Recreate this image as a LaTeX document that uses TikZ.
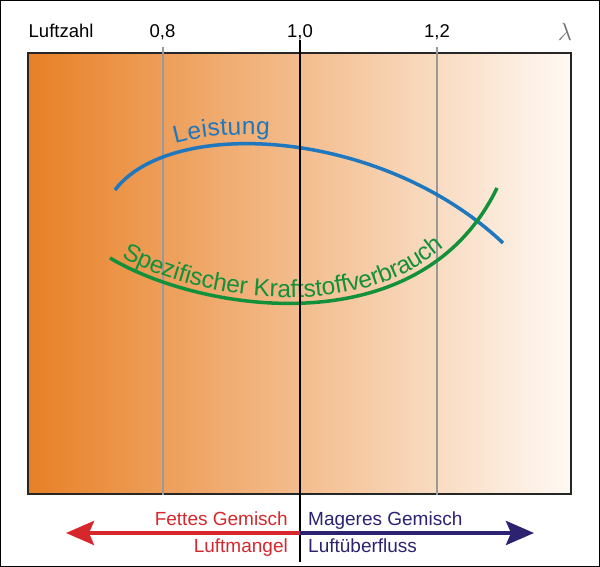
\documentclass[tikz,border=0pt]{standalone}
\usepackage{fontspec}
\setmainfont{Liberation Sans}
\usetikzlibrary{arrows.meta,decorations.text}
\definecolor{orangeL}{RGB}{232,128,38}
\definecolor{orangeR}{RGB}{254,249,244}
\definecolor{lblue}{RGB}{31,119,190}
\definecolor{lgreen}{RGB}{18,145,58}
\definecolor{fred}{RGB}{214,40,44}
\definecolor{mblue}{RGB}{43,34,114}

\begin{document}
\begin{tikzpicture}[x=1pt,y=1pt,
  lbl/.style={font=\fontsize{18.5}{22}\selectfont,inner sep=0pt,anchor=base},
  sub/.style={font=\fontsize{19}{23}\selectfont,inner sep=0pt},
  grid/.style={draw=black!40,line width=2pt},
  bigtip/.style={line width=4pt,-{Stealth[length=28pt,width=24pt,inset=5pt]}}]

\useasboundingbox (0,0) rectangle (600,567);
\draw[line width=1pt] (0.5,0.5) rectangle (599.5,566.5);

\node[draw=black!85,line width=1.3pt,left color=orangeL,right color=orangeR,
  minimum width=543pt,minimum height=441pt,inner sep=0pt] (box) at (299.5,293.5) {};

\node[lbl,anchor=base west] (luft) at (28.5,529) {Luftzahl};
\node[lbl] (n08) at (162.5,529) {0,8};
\node[lbl] (n10) at (300,529) {1,0};
\node[lbl] (n12) at (437,529) {1,2};
\node[font=\fontsize{26}{30}\selectfont,text=black!55,anchor=base,inner sep=0pt] (lam) at (565,526) {$\lambda$};

\coordinate (g08) at (162.5,520);
\coordinate (g12) at (437,520);
\coordinate (top) at (300,527);
\coordinate (bot) at (300,5);

\path [grid] (g08) -- (g08 |- box.south);
\path [grid] (g12) -- (g12 |- box.south);

\draw[lblue,line width=3.5pt,postaction={decorate,decoration={text along path,raise=9pt,
  text align={left indent=74pt},text color=lblue,
  text={|\fontsize{24.5}{28}\selectfont|Leistung}}}]
  (115,377) .. controls (170,450) and (380,440) .. (503,324);
\draw[lgreen,line width=3.5pt,postaction={decorate,decoration={text along path,raise=6pt,
  text align={left indent=10pt},text color=lgreen,
  text={|\fontsize{24.5}{28}\selectfont|Spezifischer Kraftstoffverbrauch}}}]
  (110,309) .. controls (200,255) and (420,220) .. (497,379);

\draw[line width=1.5pt] (top) -- (bot);

\coordinate (mid) at (300,34);
\coordinate (fett) at (66,34);
\coordinate (mager) at (534,34);
\path [bigtip,draw=fred,fill=fred] (mid) -- (fett);
\path [bigtip,draw=mblue,fill=mblue] (mid) -- (mager);

\node[sub,text=fred,anchor=base east] (fg) at (288,41) {Fettes Gemisch};
\node[sub,text=fred,anchor=base east] (lm) at (288,14) {Luftmangel};
\node[sub,text=mblue,anchor=base west] (mg) at (308,41) {Mageres Gemisch};
\node[sub,text=mblue,anchor=base west] (lu) at (308,14) {Luftüberfluss};

\end{tikzpicture}
\end{document}
